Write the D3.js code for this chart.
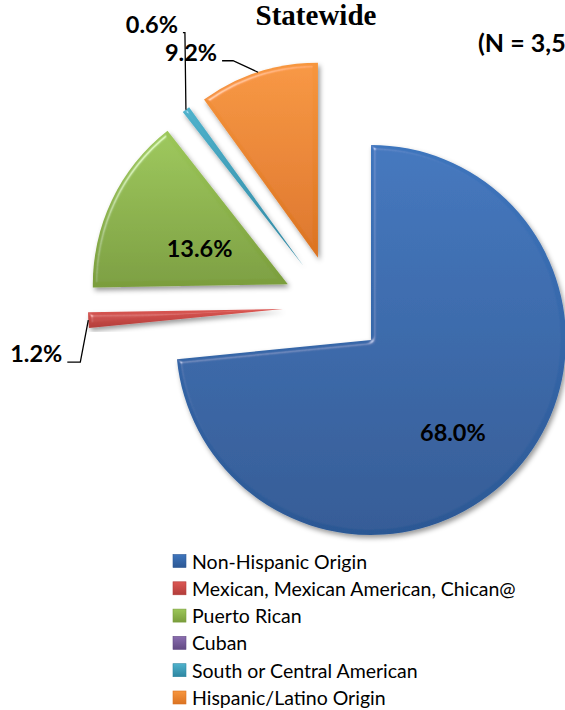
<!DOCTYPE html>
<html>
<head>
<meta charset="utf-8">
<script src="https://cdn.jsdelivr.net/npm/d3@7"></script>
<style>
  html, body { margin: 0; padding: 0; background: #fff; }
  svg { display: block; }
</style>
</head>
<body>
<script>
// Ethnicity breakdown, statewide (percent of respondents)
const categories = [
  "Non-Hispanic Origin",
  "Mexican, Mexican American, Chican@",
  "Puerto Rican",
  "Cuban",
  "South or Central American",
  "Hispanic/Latino Origin"
];
const shares = [68.0, 1.2, 13.6, 0, 0.6, 9.2];
const topColors = ["#3e75bd", "#dc5753", "#9cc759", "#8a6db0", "#4fb2cc", "#f7963e"];
const bottomColors = ["#2c5894", "#b23d3a", "#7a9d3c", "#634a84", "#2d86a1", "#db7322"];
const titleText = "Statewide";
const sampleText = "(N = 3,5";

const W = 565, H = 710;
const cx = 333.5, cy = 306, R = 195, explode = 50.6;
const fmt = v => d3.format(".1f")(v) + "%";

const data = categories.map((c, i) => ({ name: c, value: shares[i], i }));

const svg = d3.select("body").append("svg")
  .attr("width", W).attr("height", H)
  .attr("viewBox", `0 0 ${W} ${H}`);

const defs = svg.append("defs");

// vertical fill gradients, light at top and darker toward the bottom
data.forEach((d, i) => {
  const g = defs.append("linearGradient")
    .attr("id", "grad" + i)
    .attr("x1", 0).attr("y1", 0).attr("x2", 0).attr("y2", 1);
  g.append("stop").attr("offset", "0%").attr("stop-color", topColors[i]);
  g.append("stop").attr("offset", "100%").attr("stop-color", bottomColors[i]);
});

// soft bevel highlight plus drop shadow for the slices
const bevel = defs.append("filter").attr("id", "bevel")
  .attr("x", "-20%").attr("y", "-20%").attr("width", "140%").attr("height", "140%");
bevel.append("feGaussianBlur").attr("in", "SourceAlpha").attr("stdDeviation", 2).attr("result", "blur");
const spec = bevel.append("feSpecularLighting")
  .attr("in", "blur").attr("surfaceScale", 4).attr("specularConstant", 0.8)
  .attr("specularExponent", 30).attr("lighting-color", "#ffffff").attr("result", "spec");
spec.append("feDistantLight").attr("azimuth", 225).attr("elevation", 35);
bevel.append("feComposite").attr("in", "spec").attr("in2", "SourceAlpha")
  .attr("operator", "in").attr("result", "specIn");
bevel.append("feComposite").attr("in", "SourceGraphic").attr("in2", "specIn")
  .attr("operator", "arithmetic").attr("k1", 0).attr("k2", 1).attr("k3", 0.5).attr("k4", 0)
  .attr("result", "lit");
bevel.append("feDropShadow").attr("in", "lit").attr("dx", 2).attr("dy", 3)
  .attr("stdDeviation", 2.5).attr("flood-color", "#000").attr("flood-opacity", 0.4);

const pie = d3.pie().sort(null).value(d => d.value).startAngle(0).endAngle(2 * Math.PI);
const arc = d3.arc().innerRadius(0).outerRadius(R);
const arcs = pie(data).filter(d => d.value > 0);

const mid = d => (d.startAngle + d.endAngle) / 2;
const offset = d => [explode * Math.sin(mid(d)), -explode * Math.cos(mid(d))];

const slices = svg.append("g").attr("transform", `translate(${cx},${cy})`);

const sliceG = slices.selectAll("g.slice").data(arcs).enter().append("g")
  .attr("class", "slice")
  .attr("transform", d => `translate(${offset(d)[0]},${offset(d)[1]})`);

sliceG.append("path")
  .attr("d", arc)
  .attr("fill", d => `url(#grad${d.data.i})`)
  .attr("filter", "url(#bevel)");

// callouts for the narrow slices: elbow offset from the arc midpoint and tail length
const callouts = {
  "Mexican, Mexican American, Chican@": { dx: -8, dy: 42, tail: 13 },
  "South or Central American": { dx: -1, dy: -77, tail: 2 },
  "Hispanic/Latino Origin": { dx: -25, dy: -11.5, tail: 11 }
};
// placement of the labels drawn inside a slice: radius fraction and angle nudge (degrees)
const inside = {
  "Non-Hispanic Origin": { k: 0.63, da: 6 },
  "Puerto Rican": { k: 0.49, da: -3 }
};

const labelFont = "Lato, 'Open Sans', sans-serif";
const labelSize = "23.5px";

sliceG.filter(d => inside[d.data.name]).append("text")
  .each(function (d) {
    const p = inside[d.data.name];
    const a = mid(d) + p.da * Math.PI / 180;
    d3.select(this)
      .attr("x", Math.sin(a) * R * p.k)
      .attr("y", -Math.cos(a) * R * p.k);
  })
  .attr("text-anchor", "middle")
  .attr("dominant-baseline", "central")
  .style("font-family", labelFont).style("font-weight", 700).style("font-size", labelSize)
  .attr("fill", "#000")
  .text(d => fmt(d.value));

const outside = slices.append("g");
arcs.filter(d => callouts[d.data.name]).forEach(d => {
  const c = callouts[d.data.name];
  const [ox, oy] = offset(d);
  const px = ox + Math.sin(mid(d)) * R, py = oy - Math.cos(mid(d)) * R;
  const ex = px + c.dx, ey = py + c.dy;
  const tx = ex - c.tail;
  outside.append("path")
    .attr("d", d3.line()([[px, py], [ex, ey], [tx, ey]]))
    .attr("fill", "none").attr("stroke", "#000").attr("stroke-width", 1.3);
  outside.append("text")
    .attr("x", tx - 5).attr("y", ey)
    .attr("text-anchor", "end")
    .style("font-family", labelFont).style("font-weight", 700).style("font-size", labelSize)
    .attr("fill", "#000")
    .text(fmt(d.value));
});

// title and sample size
svg.append("text")
  .attr("x", 316).attr("y", 25)
  .attr("text-anchor", "middle")
  .style("font-family", "'Liberation Serif', 'DejaVu Serif', serif")
  .style("font-weight", 700).style("font-size", "29px")
  .attr("fill", "#000")
  .text(titleText);

svg.append("text")
  .attr("x", 478).attr("y", 52)
  .style("font-family", labelFont).style("font-weight", 700).style("font-size", "25px")
  .attr("fill", "#000")
  .text(sampleText);

// legend
const legend = svg.append("g").attr("transform", "translate(173,561)");
const rowH = 27.3;
const rows = legend.selectAll("g").data(data).enter().append("g")
  .attr("transform", (d, i) => `translate(0,${i * rowH})`);
rows.append("rect")
  .attr("x", 0).attr("y", -6.5).attr("width", 13).attr("height", 13)
  .attr("fill", d => `url(#grad${d.i})`)
  .attr("stroke", d => bottomColors[d.i]).attr("stroke-width", 0.6);
rows.append("text")
  .attr("x", 19).attr("y", 0)
  .attr("dominant-baseline", "central")
  .style("font-family", "Lato, 'Open Sans', sans-serif")
  .style("font-size", "19.5px")
  .attr("fill", "#000")
  .text(d => d.name);
</script>
</body>
</html>
